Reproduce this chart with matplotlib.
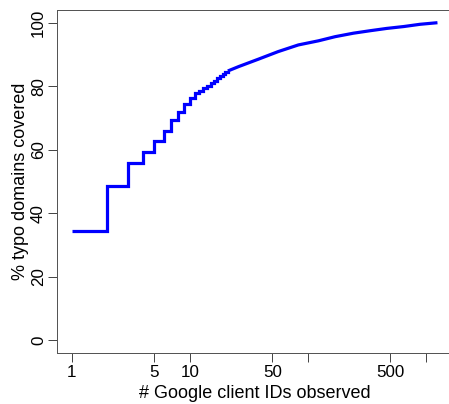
import matplotlib
matplotlib.use('Agg')
import matplotlib.pyplot as plt

plt.rcParams['font.family'] = ['Liberation Sans', 'DejaVu Sans']

# step part: small counts (integer # of client IDs)
step_ids = [1, 2, 3, 4, 5, 6, 7, 8, 9, 10, 11, 12, 13, 14, 15, 16, 17, 18, 19, 20, 21]
step_pct = [34.3, 48.6, 55.8, 59.4, 62.8, 66.0, 69.3, 71.8, 74.3, 76.4, 77.8,
            78.6, 79.4, 80.2, 80.9, 81.6, 82.5, 83.2, 83.8, 84.4, 84.8]

# tail where steps are too small to see
tail_ids = [21, 26, 38, 56, 83, 123, 170, 243, 340, 465, 650, 890, 1250]
tail_pct = [84.8, 86.2, 88.5, 90.9, 93.0, 94.3, 95.6, 96.7, 97.5, 98.2, 98.8, 99.5, 100.0]

xticks = [1, 5, 10, 50, 100, 500, 1000]
xticklabels = ['1', '5', '10', '50', '', '500', '']
yticks = [0, 20, 40, 60, 80, 100]

W, H = 449, 404
fig = plt.figure(figsize=(W / 72, H / 72), dpi=72)
ax = fig.add_axes([57 / W, (H - 352.7) / H, (452 - 57) / W, (352.7 - 10) / H])

ax.plot(step_ids, step_pct, drawstyle='steps-post', color='blue', lw=3.2,
        solid_joinstyle='miter', solid_capstyle='butt')
ax.plot(tail_ids, tail_pct, color='blue', lw=3.2, solid_capstyle='butt')

ax.set_xscale('log')
ax.set_xlim(10 ** -0.124, 10 ** 3.22)
ax.set_ylim(-3.9, 104)
ax.set_xticks(xticks)
ax.set_xticklabels(xticklabels)
ax.minorticks_off()
ax.set_yticks(yticks)
ax.set_yticklabels([str(v) for v in yticks], rotation=90, va='center')

ax.tick_params(direction='out', length=9, width=0.9, color='#333333',
               labelsize=17, pad=3)
ax.tick_params(axis='y', pad=2)
for s in ax.spines.values():
    s.set_color('#555555')
    s.set_linewidth(1.0)

ax.set_xlabel('# Google client IDs observed', fontsize=18, labelpad=5)
ax.set_ylabel('% typo domains covered', fontsize=18, labelpad=2)

fig.savefig('out.png', dpi=72)
